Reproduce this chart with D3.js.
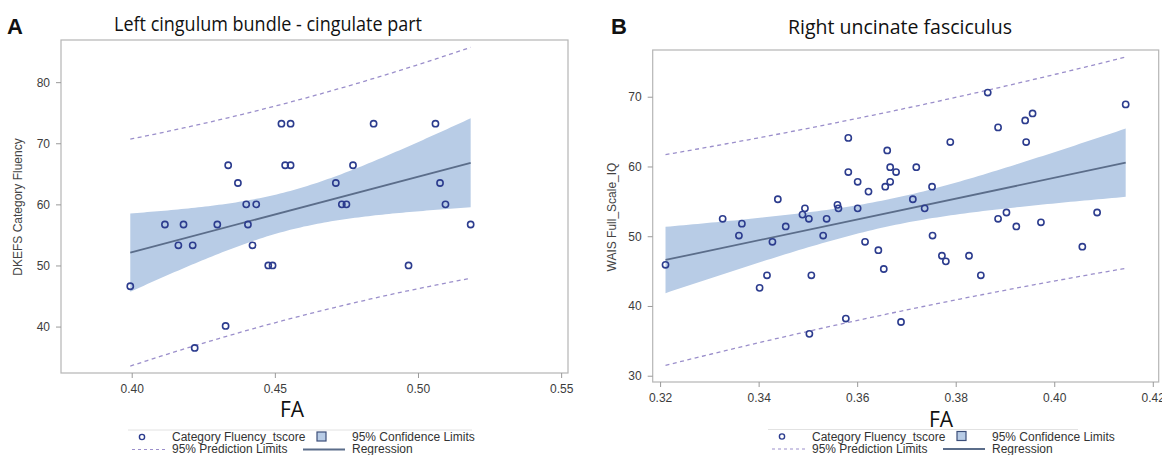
<!DOCTYPE html>
<html lang="en">
<head>
<meta charset="UTF-8">
<title>FA regressions</title>
<style>
    body { margin: 0; background: #fff; }
    svg { display: block; }
    .tick text { font-family: "Liberation Sans", Arial, sans-serif; font-size: 12px; fill: #3c3c3c; }
    .tick line { stroke: #9a9a9a; }
    .domain { display: none; }
    .ylab { font-family: "Liberation Sans", Arial, sans-serif; font-size: 12px; fill: #444; }
    .legend text { font-family: "Liberation Sans", Arial, sans-serif; font-size: 12px; fill: #333; }
    .title { font-family: "Open Sans", sans-serif; font-size: 20px; fill: #111; }
    .panel-letter { font-family: "Liberation Sans", Arial, sans-serif; font-size: 22px; font-weight: bold; fill: #111; }
    .xlab { font-family: "Open Sans", sans-serif; font-size: 21px; fill: #111; }
</style>
<script src="https://d3js.org/d3.v7.min.js"></script>
</head>
<body>
<svg width="1162" height="455"></svg>
<script>
// Panel A data: FA vs Category Fluency t-score
const leftFA = [0.3995, 0.4116, 0.4163, 0.4181, 0.4213, 0.4220, 0.4299, 0.4328, 0.4337, 0.4371,
    0.4400, 0.4406, 0.4422, 0.4435, 0.4477, 0.4492, 0.4523, 0.4536, 0.4555, 0.4555,
    0.4713, 0.4734, 0.4750, 0.4773, 0.4845, 0.4967, 0.5061, 0.5077, 0.5096, 0.5184];
const leftScore = [46.6, 56.7, 53.3, 56.7, 53.3, 36.5, 56.7, 40.1, 66.4, 63.5,
    60.0, 56.7, 53.3, 60.0, 50.0, 50.0, 73.2, 66.4, 73.2, 66.4,
    63.5, 60.0, 60.0, 66.4, 73.2, 50.0, 73.2, 63.5, 60.0, 56.7];

// Panel B data: FA vs WAIS full scale IQ
const rightFA = [0.3211, 0.3327, 0.3360, 0.3366, 0.3402, 0.3417, 0.3428, 0.3439, 0.3455, 0.3489,
    0.3494, 0.3502, 0.3503, 0.3507, 0.3531, 0.3538, 0.3560, 0.3562, 0.3577, 0.3582,
    0.3582, 0.3601, 0.3601, 0.3616, 0.3623, 0.3643, 0.3654, 0.3657, 0.3661, 0.3667,
    0.3667, 0.3679, 0.3689, 0.3713, 0.3720, 0.3737, 0.3752, 0.3753, 0.3772, 0.3780,
    0.3789, 0.3827, 0.3851, 0.3865, 0.3886, 0.3886, 0.3903, 0.3923, 0.3941, 0.3943,
    0.3956, 0.3973, 0.4057, 0.4087, 0.4145];
const rightIQ = [45.9, 52.5, 50.1, 51.8, 42.6, 44.4, 49.2, 55.3, 51.4, 53.1,
    54.0, 52.5, 36.0, 44.4, 50.1, 52.5, 54.5, 54.0, 38.2, 64.1,
    59.2, 57.8, 54.0, 49.2, 56.4, 48.0, 45.3, 57.1, 62.3, 59.9,
    57.8, 59.2, 37.7, 55.3, 59.9, 54.0, 57.1, 50.1, 47.2, 46.4,
    63.5, 47.2, 44.4, 70.6, 65.6, 52.5, 53.4, 51.4, 66.6, 63.5,
    67.6, 52.0, 48.5, 53.4, 68.9];

const leftXTicks = [0.40, 0.45, 0.50, 0.55];
const leftYTicks = [40, 50, 60, 70, 80];
const rightXTicks = [0.32, 0.34, 0.36, 0.38, 0.40, 0.42];
const rightYTicks = [30, 40, 50, 60, 70];

const legendLabels = ["Category Fluency_tscore", "95% Confidence Limits", "95% Prediction Limits", "Regression"];

const C = {
    point: "#2c3c8e",
    band: "#b8cce6",
    reg: "#5b6d8a",
    pred: "#9b8fcb",
    frame: "#b5b5b5"
};

const svg = d3.select("svg");

// ordinary least squares with confidence / prediction half-widths
function fit(xs, ys, t) {
    const n = xs.length;
    const mx = d3.mean(xs), my = d3.mean(ys);
    let sxx = 0, sxy = 0;
    xs.forEach((x, i) => { sxx += (x - mx) ** 2; sxy += (x - mx) * (ys[i] - my); });
    const b = sxy / sxx, a = my - b * mx;
    let sse = 0;
    xs.forEach((x, i) => { sse += (ys[i] - a - b * x) ** 2; });
    const s = Math.sqrt(sse / (n - 2));
    return x => {
        const yh = a + b * x;
        const h = 1 / n + (x - mx) ** 2 / sxx;
        return { x, yh, ci: t * s * Math.sqrt(h), pi: t * s * Math.sqrt(1 + h) };
    };
}

function panel(o) {
    const x = d3.scaleLinear().domain(o.xDomain).range([o.left, o.right]);
    const y = d3.scaleLinear().domain(o.yDomain).range([o.bottom, o.top]);
    const g = svg.append("g");

    const f = fit(o.xs, o.ys, o.t);
    const [x0, x1] = d3.extent(o.xs);
    const grid = d3.range(0, 101).map(i => f(x0 + (x1 - x0) * i / 100));

    g.append("path")
        .datum(grid)
        .attr("fill", C.band)
        .attr("d", d3.area().x(d => x(d.x)).y0(d => y(d.yh - d.ci)).y1(d => y(d.yh + d.ci)));

    [1, -1].forEach(sg => {
        g.append("path")
            .datum(grid)
            .attr("fill", "none")
            .attr("stroke", C.pred)
            .attr("stroke-width", 1.3)
            .attr("stroke-dasharray", "4,3.5")
            .attr("d", d3.line().x(d => x(d.x)).y(d => y(d.yh + sg * d.pi)));
    });

    g.append("path")
        .datum([grid[0], grid[100]])
        .attr("fill", "none")
        .attr("stroke", C.reg)
        .attr("stroke-width", 1.8)
        .attr("d", d3.line().x(d => x(d.x)).y(d => y(d.yh)));

    g.selectAll("circle.pt")
        .data(o.xs.map((v, i) => [v, o.ys[i]]))
        .join("circle")
        .attr("class", "pt")
        .attr("cx", d => x(d[0]))
        .attr("cy", d => y(d[1]))
        .attr("r", 3.1)
        .attr("fill", "none")
        .attr("stroke", C.point)
        .attr("stroke-width", 1.6);

    // frame
    g.append("rect")
        .attr("x", o.left).attr("y", o.top)
        .attr("width", o.right - o.left).attr("height", o.bottom - o.top)
        .attr("fill", "none").attr("stroke", C.frame).attr("stroke-width", 1.2);

    g.append("g")
        .attr("transform", `translate(0,${o.bottom})`)
        .call(d3.axisBottom(x).tickValues(o.xTicks).tickFormat(d3.format(".2f")).tickSize(5).tickPadding(6));
    g.append("g")
        .attr("transform", `translate(${o.left},0)`)
        .call(d3.axisLeft(y).tickValues(o.yTicks).tickFormat(d3.format("d")).tickSize(5).tickPadding(6));

    g.append("text")
        .attr("class", "ylab")
        .attr("transform", `translate(${o.ylabX},${o.ylabY}) rotate(-90)`)
        .attr("text-anchor", "middle")
        .text(o.ylab);

    g.append("text").attr("class", "title")
        .attr("x", o.titleX).attr("y", o.titleY)
        .attr("text-anchor", "middle")
        .attr("textLength", o.titleW)
        .attr("lengthAdjust", "spacingAndGlyphs")
        .text(o.title);

    g.append("text").attr("class", "panel-letter")
        .attr("x", o.letterX).attr("y", 34)
        .text(o.letter);

    g.append("text").attr("class", "xlab")
        .attr("x", o.faX).attr("y", o.faY)
        .attr("text-anchor", "middle")
        .text("FA");

    // legend
    const L = g.append("g").attr("class", "legend").attr("transform", `translate(${o.legX},${o.legY})`);
    L.append("line").attr("x1", 0).attr("x2", o.legW).attr("y1", 0).attr("y2", 0)
        .attr("stroke", "#e2e2e2");
    L.append("circle").attr("cx", 14).attr("cy", 7).attr("r", 2.6)
        .attr("fill", "none").attr("stroke", C.point).attr("stroke-width", 1.4);
    L.append("text").attr("x", 44).attr("y", 11).text(legendLabels[0]);
    L.append("rect").attr("x", 189).attr("y", 2).attr("width", 9).attr("height", 9)
        .attr("fill", C.band).attr("stroke", "#3d4f7a").attr("stroke-width", 1.2);
    L.append("text").attr("x", 224).attr("y", 11).text(legendLabels[1]);
    L.append("line").attr("x1", 4).attr("x2", 38).attr("y1", 19.5).attr("y2", 19.5)
        .attr("stroke", C.pred).attr("stroke-width", 1.2).attr("stroke-dasharray", "3,3");
    L.append("text").attr("x", 44).attr("y", 23).text(legendLabels[2]);
    L.append("line").attr("x1", 175).attr("x2", 217).attr("y1", 19.5).attr("y2", 19.5)
        .attr("stroke", C.reg).attr("stroke-width", 1.8);
    L.append("text").attr("x", 224).attr("y", 23).text(legendLabels[3]);
}

panel({
    xs: leftFA, ys: leftScore, t: 2.0484,
    xDomain: [0.3753, 0.5524], yDomain: [32.4, 86.9],
    left: 61, right: 568, top: 40, bottom: 373,
    xTicks: leftXTicks, yTicks: leftYTicks,
    ylab: "DKEFS Category Fluency", ylabX: 22, ylabY: 207,
    title: "Left  cingulum bundle - cingulate part", titleX: 268, titleY: 31, titleW: 308,
    letter: "A", letterX: 7,
    faX: 292, faY: 417,
    legX: 128, legY: 430, legW: 344
});

panel({
    xs: rightFA, ys: rightIQ, t: 2.0057,
    xDomain: [0.3185, 0.4212], yDomain: [29.1, 76.7],
    left: 652.7, right: 1158.7, top: 50, bottom: 382,
    xTicks: rightXTicks, yTicks: rightYTicks,
    ylab: "WAIS Full_Scale_IQ", ylabX: 616, ylabY: 217,
    title: "Right uncinate fasciculus", titleX: 900, titleY: 34, titleW: 224,
    letter: "B", letterX: 611,
    faX: 941, faY: 427,
    legX: 768, legY: 429.5, legW: 310
});
</script>
</body>
</html>
